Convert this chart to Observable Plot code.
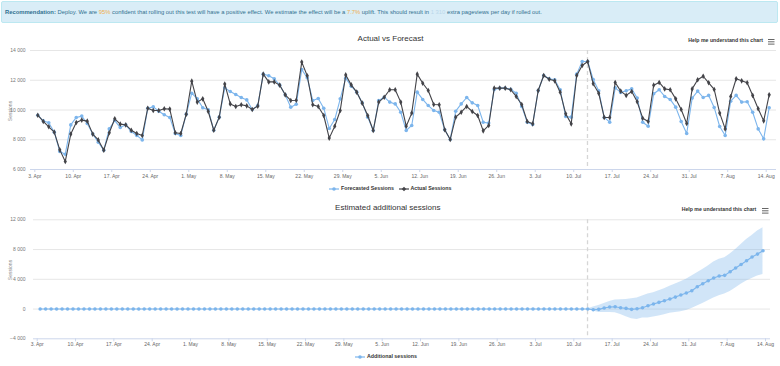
<!DOCTYPE html>
<html><head><meta charset="utf-8">
<script src="https://cdn.jsdelivr.net/npm/d3@7"></script>
<script src="https://cdn.jsdelivr.net/npm/@observablehq/plot@0.6"></script>
<style>
html,body{margin:0;padding:0;background:#fff;}
body{width:780px;height:366px;position:relative;overflow:hidden;font-family:"Liberation Sans",Arial,sans-serif;}
.abs{position:absolute;white-space:nowrap;line-height:1;}
#banner{left:1px;top:1px;width:777px;height:22px;background:#d9edf7;border:1px solid #bce8f1;border-radius:2px;box-sizing:border-box;}
#bannerText{left:5px;top:12.5px;transform:translateY(-50%);font-size:5.83px;color:#31708f;}
#bannerText b{color:#31708f;}
.hl{color:#f0ad4e;}
.faint{color:#b9d7ea;}
.title{font-size:8px;color:#333;transform:translate(-50%,-50%);}
.help{font-size:5.2px;font-weight:bold;color:#333;transform:translateY(-50%);}
.ylab{font-size:5px;color:#888;transform:translate(-50%,-50%) rotate(-90deg);}
.legend{font-size:5.3px;font-weight:bold;color:#333;transform:translateY(-50%);display:flex;align-items:center;}
.legend svg{margin-right:2px;}
.chart{position:absolute;left:0;}
</style></head><body>
<div id="banner" class="abs"></div>
<div id="bannerText" class="abs"><b>Recommendation:</b> Deploy. We are <span class="hl">95%</span> confident that rolling out this test will have a positive effect. We estimate the effect will be a <span class="hl">7.7%</span> uplift. This should result in <span class="faint">1 310</span> extra pageviews per day if rolled out.</div>

<div class="abs title" style="left:390.5px;top:39.3px;">Actual vs Forecast</div>
<div class="abs help" style="left:688.3px;top:41px;">Help me understand this chart</div>
<svg class="abs" style="left:768px;top:38.5px;" width="7" height="6"><rect x="0" y="0" width="6.5" height="1" fill="#666"/><rect x="0" y="2.3" width="6.5" height="1" fill="#666"/><rect x="0" y="4.6" width="6.5" height="1" fill="#666"/></svg>
<div class="abs ylab" style="left:10px;top:111px;">Sessions</div>
<div id="topChart" class="chart" style="top:45px;"></div>
<div class="abs legend" style="left:329px;top:189px;"><svg width="10" height="6"><line x1="0" y1="3" x2="10" y2="3" stroke="#7cb5ec" stroke-width="1.2"/><circle cx="5" cy="3" r="1.8" fill="#7cb5ec"/></svg>Forecasted Sessions</div>
<div class="abs legend" style="left:398.5px;top:189px;"><svg width="10" height="6"><line x1="0" y1="3" x2="10" y2="3" stroke="#434348" stroke-width="1.2"/><path d="M5,0.8L7.2,3L5,5.2L2.8,3Z" fill="#434348"/></svg>Actual Sessions</div>

<div class="abs title" style="left:387.8px;top:208.3px;">Estimated additional sessions</div>
<div class="abs help" style="left:681.7px;top:210px;">Help me understand this chart</div>
<svg class="abs" style="left:762px;top:207.5px;" width="7" height="6"><rect x="0" y="0" width="6.5" height="1" fill="#666"/><rect x="0" y="2.3" width="6.5" height="1" fill="#666"/><rect x="0" y="4.6" width="6.5" height="1" fill="#666"/></svg>
<div class="abs ylab" style="left:10px;top:270px;">Sessions</div>
<div id="bottomChart" class="chart" style="top:214px;"></div>
<div class="abs legend" style="left:355px;top:357px;"><svg width="10" height="6"><line x1="0" y1="3" x2="10" y2="3" stroke="#7cb5ec" stroke-width="1.2"/><circle cx="5" cy="3" r="1.8" fill="#7cb5ec"/></svg>Additional sessions</div>

<script>
// ---- data ----
const firstDay = "2017-04-03";
const rolloutDate = "2017-07-12T12:00Z";
const bandStartDay = "2017-07-12";
const xTickDates = ["2017-04-03","2017-04-10","2017-04-17","2017-04-24","2017-05-01","2017-05-08","2017-05-15","2017-05-22","2017-05-29","2017-06-05","2017-06-12","2017-06-19","2017-06-26","2017-07-03","2017-07-10","2017-07-17","2017-07-24","2017-07-31","2017-08-07","2017-08-14"];
const monthNames = ["Jan","Feb","Mar","Apr","May","Jun","Jul","Aug","Sep","Oct","Nov","Dec"];
const topYTicks = [6000, 8000, 10000, 12000, 14000];
const bottomYTicks = [-4000, 0, 4000, 8000, 12000];

const actualSessions = [9650,9230,8870,8510,7320,6540,8380,9160,9320,9250,8380,7990,7300,8470,9410,9050,9000,8640,8420,8290,
10120,9970,9970,10080,10060,8470,8420,9720,11940,10530,10750,9900,8640,9520,11740,10410,10240,10350,10280,10030,
10260,12410,11890,11890,11670,11020,10640,10660,13220,12300,10350,10240,9630,8110,8910,9970,12360,11690,11200,10460,
9630,8620,10530,10860,11360,11360,10530,8910,9790,12410,11800,11310,10370,10350,8670,8020,9520,9850,10240,9900,
9630,8600,8960,11470,11470,11470,11360,10910,10370,9230,9070,11310,12320,12070,11960,11200,9740,9070,12320,12990,
13260,11760,11130,9500,9500,11850,11270,10980,11240,10550,9450,9230,11670,11850,11420,11360,10750,10030,9090,11420,
12030,12270,11830,11380,9790,8730,10910,12100,11960,11830,10980,10080,9270,11020];

const forecastSessions = [9650,9270,9140,8510,7210,7030,9000,9500,9590,9090,8380,7840,7300,8730,9290,8820,9000,8550,8290,7990,
10120,10210,9920,9680,9500,8420,8290,9720,11130,10750,10150,10010,8640,9520,11490,11240,11040,10840,10680,10030,
10300,12410,12300,12100,11670,11020,10190,10390,12720,12160,10640,10770,10120,8760,9360,10750,12140,11600,11200,10480,
9520,8620,10640,10860,10530,10410,9850,8620,8960,11200,10710,10300,9970,9850,8670,8020,9920,10410,10840,10480,
10300,9180,9120,11380,11470,11470,11400,11130,10240,9180,9030,11310,12320,12100,12030,11360,9560,9520,12410,13260,
13260,12050,11290,9500,9180,11490,11180,11290,11420,10800,9180,8910,11090,11360,10910,10710,10190,9230,8420,10800,
11270,10840,10980,10170,8890,8290,10590,10980,10530,10550,9850,8730,8060,10150];

const additionalSessions = [0,0,0,0,0,0,0,0,0,0,0,0,0,0,0,0,0,0,0,0,
0,0,0,0,0,0,0,0,0,0,0,0,0,0,0,0,0,0,0,0,
0,0,0,0,0,0,0,0,0,0,0,0,0,0,0,0,0,0,0,0,
0,0,0,0,0,0,0,0,0,0,0,0,0,0,0,0,0,0,0,0,
0,0,0,0,0,0,0,0,0,0,0,0,0,0,0,0,0,0,0,0,
0,-90,-40,140,270,310,180,90,-40,50,180,450,670,900,1120,1350,1610,1880,2150,2470,
3000,3410,3810,4170,4440,4530,5020,5510,6000,6500,6990,7390,7840];

const bandUpper = [0,270,490,760,1030,1210,1260,1300,1390,1480,1750,2020,2200,2470,2730,3050,3360,3670,3990,4440,
4880,5330,5780,6320,6680,6900,7390,8020,8690,9360,9900,10480,10930];
const bandLower = [0,-270,-450,-450,-450,-490,-720,-1030,-1300,-1390,-1210,-1210,-1070,-940,-760,-580,-450,-360,-180,90,
400,760,1120,1480,1790,2020,2370,2820,3320,3760,4120,4440,4660];

// ---- build ----
const DAY = 864e5;
const t0 = Date.parse(firstDay + "T00:00Z");
const dayDate = (base, i) => new Date(base + i * DAY + 13 * 3600e3);
const xTicks = xTickDates.map(s => new Date(s + "T00:00Z"));
const xFmt = d => `${d.getUTCDate()}. ${monthNames[d.getUTCMonth()]}`;
const yFmt = d => d3.format(",")(d).replace(/,/g, " ");
const split = new Date(rolloutDate);
const lastTick = Date.parse("2017-08-14T00:00Z");
const font = "Liberation Sans, Arial, sans-serif";

const topData = actualSessions.map((a, i) => ({date: dayDate(t0, i), actual: a, forecast: forecastSessions[i]}));

const topChart = Plot.plot({
  width: 780, height: 140,
  marginTop: 5, marginBottom: 16, marginLeft: 30, marginRight: 4,
  style: {fontFamily: font, fontSize: "5px", background: "transparent", overflow: "visible"},
  x: {type: "utc", domain: [new Date(t0 - 0.782 * DAY), new Date(lastTick + 1.873 * DAY)]},
  y: {domain: [6000, 14000]},
  marks: [
    Plot.gridY(topYTicks.slice(1), {stroke: "#e6e6e6", strokeOpacity: 1}),
    Plot.ruleY([6000], {stroke: "#ccd6eb"}),
    Plot.axisX({ticks: xTicks, tickFormat: xFmt, tickSize: 3, tickPadding: 1.5, stroke: "#ccd6eb", fill: "#666", label: null}),
    Plot.axisY({ticks: topYTicks, tickFormat: yFmt, tickSize: 0, tickPadding: 5, fill: "#777", label: null}),
    Plot.ruleX([split], {stroke: "#d6d6d6", strokeWidth: 1.3, strokeDasharray: "4,3"}),
    Plot.line(topData, {x: "date", y: "forecast", stroke: "#7cb5ec", strokeWidth: 1.1}),
    Plot.dot(topData, {x: "date", y: "forecast", fill: "#7cb5ec", r: 1.8}),
    Plot.line(topData, {x: "date", y: "actual", stroke: "#434348", strokeWidth: 1.1}),
    Plot.dot(topData, {x: "date", y: "actual", fill: "#434348", r: 1.7, symbol: "diamond"})
  ]
});
document.getElementById("topChart").append(topChart);

const bottomData = additionalSessions.map((v, i) => ({date: dayDate(t0, i), value: v}));
const b0 = Date.parse(bandStartDay + "T00:00Z");
const bandData = bandUpper.map((u, i) => ({date: dayDate(b0, i), hi: u, lo: bandLower[i]}));

const bottomChart = Plot.plot({
  width: 780, height: 136,
  marginTop: 5.3, marginBottom: 11.7, marginLeft: 33, marginRight: 10,
  style: {fontFamily: font, fontSize: "5px", background: "transparent", overflow: "visible"},
  x: {type: "utc", domain: [new Date(t0 - 0.676 * DAY), new Date(lastTick + 0.913 * DAY)]},
  y: {domain: [-4000, 12000]},
  marks: [
    Plot.gridY(bottomYTicks.slice(1), {stroke: "#e6e6e6", strokeOpacity: 1}),
    Plot.ruleY([-4000], {stroke: "#ccd6eb"}),
    Plot.axisX({ticks: xTicks, tickFormat: xFmt, tickSize: 3, tickPadding: 1, stroke: "#ccd6eb", fill: "#666", label: null}),
    Plot.axisY({ticks: bottomYTicks, tickFormat: yFmt, tickSize: 0, tickPadding: 8, fill: "#777", label: null}),
    Plot.areaY(bandData, {x: "date", y1: "lo", y2: "hi", fill: "#7cb5ec", fillOpacity: 0.35}),
    Plot.ruleX([split], {stroke: "#d6d6d6", strokeWidth: 1.3, strokeDasharray: "4,3"}),
    Plot.line(bottomData, {x: "date", y: "value", stroke: "#7cb5ec", strokeWidth: 1.1}),
    Plot.dot(bottomData, {x: "date", y: "value", fill: "#7cb5ec", r: 1.8})
  ]
});
document.getElementById("bottomChart").append(bottomChart);
</script>
</body></html>
